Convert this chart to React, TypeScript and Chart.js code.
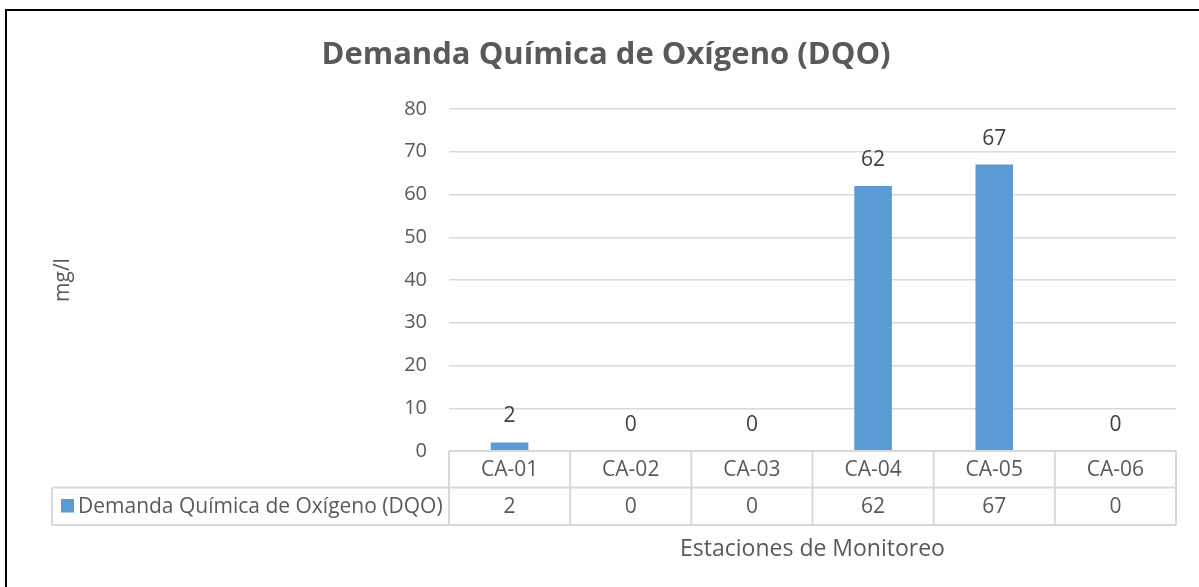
import React, { useEffect, useRef } from "react";
import { Chart, registerables } from "chart.js";

Chart.register(...registerables);

const chartTitle = "Demanda Química de Oxígeno (DQO)";
const seriesName = "Demanda Química de Oxígeno (DQO)";
const stations = ["CA-01", "CA-02", "CA-03", "CA-04", "CA-05", "CA-06"];
const dqoValues = [2, 0, 0, 62, 67, 0];
const yAxisTitle = "mg/l";
const xAxisTitle = "Estaciones de Monitoreo";
const yMin = 0;
const yMax = 80;
const yStep = 10;

const FONT = "'Open Sans', sans-serif";
const TEXT = "#595959";
const GRID = "#D9D9D9";
const BAR = "#5B9BD5";

const decorPlugin = {
  id: "decor",
  afterDraw(chart: any) {
    const { ctx, chartArea } = chart;
    const xScale = chart.scales.x;
    ctx.save();

    // outer frame (top and left edges visible)
    ctx.strokeStyle = "#000000";
    ctx.lineWidth = 2;
    ctx.beginPath();
    ctx.moveTo(6, 587);
    ctx.lineTo(6, 10);
    ctx.lineTo(1199, 10);
    ctx.stroke();

    // title
    ctx.fillStyle = TEXT;
    ctx.font = `bold 31px ${FONT}`;
    ctx.textAlign = "center";
    ctx.textBaseline = "alphabetic";
    ctx.fillText(chartTitle, 606, 64);

    // data labels
    const meta = chart.getDatasetMeta(0);
    ctx.font = `21px ${FONT}`;
    ctx.fillStyle = "#404040";
    ctx.textBaseline = "middle";
    meta.data.forEach((bar: any, i: number) => {
      ctx.fillText(String(dqoValues[i]), bar.x, bar.y - 26);
    });

    // data table
    const left = chartArea.left;
    const right = chartArea.right;
    const top = chartArea.bottom;
    const mid = top + 36.5;
    const bottom = mid + 37.5;
    const legendLeft = 52;
    const n = stations.length;
    const colW = (right - left) / n;

    ctx.strokeStyle = GRID;
    ctx.lineWidth = 2;
    ctx.beginPath();
    ctx.moveTo(left, top);
    ctx.lineTo(right, top);
    ctx.moveTo(legendLeft, mid);
    ctx.lineTo(right, mid);
    ctx.moveTo(legendLeft, bottom);
    ctx.lineTo(right, bottom);
    ctx.moveTo(legendLeft, mid);
    ctx.lineTo(legendLeft, bottom);
    for (let i = 0; i <= n; i++) {
      const x = left + i * colW;
      ctx.moveTo(x, top);
      ctx.lineTo(x, bottom);
    }
    ctx.stroke();

    ctx.fillStyle = TEXT;
    ctx.font = `21px ${FONT}`;
    ctx.textAlign = "center";
    ctx.textBaseline = "middle";
    stations.forEach((s, i) => {
      const cx = xScale.getPixelForValue(i);
      ctx.fillText(s, cx, (top + mid) / 2 + 1);
      ctx.fillText(String(dqoValues[i]), cx, (mid + bottom) / 2 + 1);
    });

    // legend key
    ctx.fillStyle = BAR;
    ctx.fillRect(61, 499, 13, 13.5);
    ctx.fillStyle = TEXT;
    ctx.textAlign = "left";
    ctx.fillText(seriesName, 78, (mid + bottom) / 2 + 1);

    // x axis title
    ctx.textAlign = "center";
    ctx.font = `23px ${FONT}`;
    ctx.fillText(xAxisTitle, (left + right) / 2, 549);

    ctx.restore();
  },
};

export default function App() {
  const canvasRef = useRef<HTMLCanvasElement | null>(null);

  useEffect(() => {
    const canvas = canvasRef.current;
    if (!canvas) return;
    const chart = new Chart(canvas, {
      type: "bar",
      data: {
        labels: stations,
        datasets: [
          {
            label: seriesName,
            data: dqoValues,
            backgroundColor: BAR,
            borderWidth: 0,
            categoryPercentage: 1,
            barPercentage: 0.31,
          },
        ],
      },
      options: {
        responsive: false,
        animation: false,
        devicePixelRatio: 1,
        layout: { padding: { top: 109, right: 23, bottom: 136, left: 0 } },
        plugins: {
          legend: { display: false },
          title: { display: false },
          tooltip: { enabled: false },
        },
        scales: {
          x: { display: false },
          y: {
            min: yMin,
            max: yMax,
            ticks: {
              stepSize: yStep,
              padding: 22,
              color: TEXT,
              font: { family: FONT, size: 20 },
            },
            grid: { color: GRID, lineWidth: 1.5, drawTicks: false },
            border: { display: false },
            title: {
              display: true,
              text: yAxisTitle,
              color: TEXT,
              font: { family: FONT, size: 21 },
              padding: { top: 50, bottom: 0 },
            },
            afterFit(scale: any) {
              scale.width = 449;
            },
          },
        },
      },
      plugins: [decorPlugin],
    });
    return () => chart.destroy();
  }, []);

  return (
    <div style={{ position: "fixed", left: 0, top: 0, width: 1199, height: 587, background: "#fff" }}>
      <canvas ref={canvasRef} width={1199} height={587} style={{ width: 1199, height: 587 }} />
    </div>
  );
}
